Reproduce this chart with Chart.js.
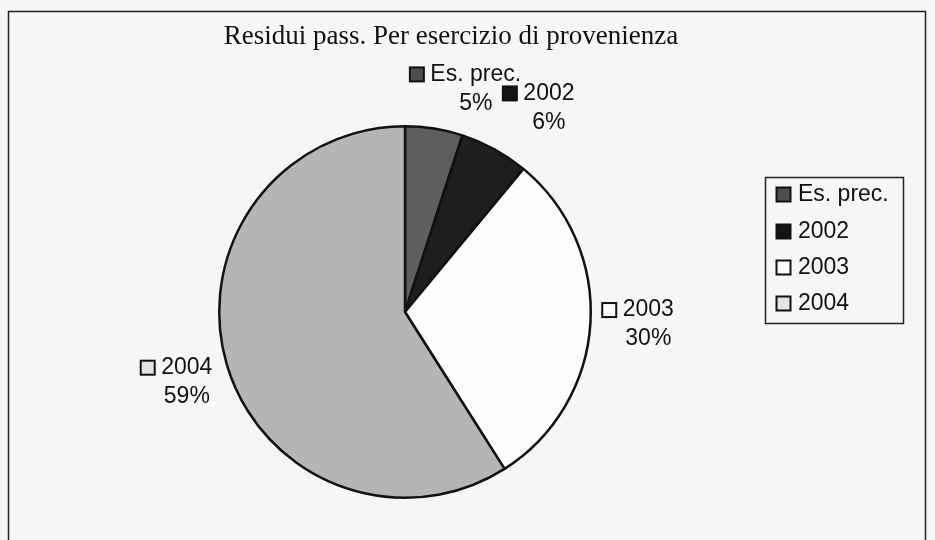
<!DOCTYPE html>
<html>
<head>
<meta charset="utf-8">
<script src="https://cdn.jsdelivr.net/npm/chart.js@4"></script>
<style>
html,body{margin:0;padding:0;background:#f6f6f6}
#box{width:935px;height:540px}
</style>
</head>
<body>
<div id="box"><canvas id="torta"></canvas></div>
<script>
// dati
const titolo="Residui pass. Per esercizio di provenienza"
const categorie=["Es. prec.","2002","2003","2004"]
const percentuali=[5,6,30,59]

const colori=["#5e5e5e","#1e1e1e","#fdfdfd","#b5b5b5"]
const coloriLegenda=["#4e4e4e","#151515","#fdfdfd","#e4e4e4"]
const fontTesto="23px 'Liberation Sans', Arial, sans-serif"
// spostamento delle etichette rispetto al punto medio dello spicchio
const spostamenti=[[37,-10],[40,-15],[28,-1],[-11,10]]

// cornice e titolo
const cornice={
id:"cornice",
beforeDraw(chart){
const c=chart.ctx
c.save()
c.fillStyle="#f6f6f6"
c.fillRect(0,0,chart.width,chart.height)
c.strokeStyle="#222"
c.lineWidth=1.5
c.strokeRect(8.5,11.5,917,560)
c.fillStyle="#111"
c.font="27px 'Liberation Serif', 'Times New Roman', serif"
c.textAlign="center"
c.textBaseline="middle"
c.fillText(titolo,451,37)
c.restore()
}
}

// etichette esterne (categoria + percentuale)
const etichette={
id:"etichette",
afterDatasetsDraw(chart){
const c=chart.ctx
const meta=chart.getDatasetMeta(0)
c.save()
c.font=fontTesto
c.textBaseline="middle"
c.textAlign="center"
meta.data.forEach((arc,i)=>{
const p=arc.getProps(["x","y","startAngle","endAngle","outerRadius"],true)
const mid=(p.startAngle+p.endAngle)/2
const dist=p.outerRadius+30
const cx=p.x+Math.cos(mid)*dist+spostamenti[i][0]
const cy=p.y+Math.sin(mid)*dist+spostamenti[i][1]
const w1=c.measureText(categorie[i]).width
const kx=cx-w1/2-21
c.fillStyle=coloriLegenda[i]
c.fillRect(kx+0.5,cy-14.5-7,14,14)
c.strokeStyle="#111"
c.lineWidth=2
c.strokeRect(kx+0.5,cy-14.5-7,14,14)
c.fillStyle="#111"
c.fillText(categorie[i],cx,cy-14.5)
c.fillText(percentuali[i]+"%",cx,cy+14.5)
})
c.restore()
}
}

// legenda a destra con riquadro
const legenda={
id:"legenda",
afterDraw(chart){
const c=chart.ctx
c.save()
c.strokeStyle="#222"
c.lineWidth=1.5
c.strokeRect(765.5,177.5,138,146)
c.font=fontTesto
c.textBaseline="middle"
c.textAlign="left"
const ys=[195,232,268,304]
chart.data.labels.forEach((lab,i)=>{
c.fillStyle=coloriLegenda[i]
c.fillRect(776.5,ys[i]-7.5,14,14)
c.strokeStyle="#111"
c.lineWidth=2
c.strokeRect(776.5,ys[i]-7.5,14,14)
c.fillStyle="#111"
c.fillText(lab,798,ys[i])
})
c.restore()
}
}

new Chart(document.getElementById("torta"),{
type:"pie",
data:{
labels:categorie,
datasets:[{
data:percentuali,
backgroundColor:colori,
borderColor:"#111",
borderWidth:2.5
}]
},
options:{
responsive:true,
maintainAspectRatio:false,
animation:false,
layout:{padding:{left:218,right:343,top:125,bottom:41}},
plugins:{
legend:{display:false},
title:{display:false},
tooltip:{enabled:false}
}
},
plugins:[cornice,etichette,legenda]
})
</script>
</body>
</html>
